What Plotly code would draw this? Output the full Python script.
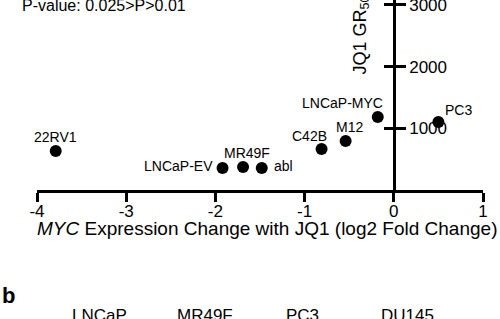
import plotly.graph_objects as go

# ---- data ----
cell_lines = ["22RV1", "LNCaP-EV", "MR49F", "abl", "C42B", "M12", "LNCaP-MYC", "PC3"]
myc_log2fc = [-3.79, -1.92, -1.69, -1.48, -0.81, -0.54, -0.18, 0.50]
jq1_gr50 = [632, 357, 373, 357, 665, 795, 1184, 1103]
x_ticks = [-4, -3, -2, -1, 0, 1]
y_ticks = [1000, 2000, 3000]
panel_b_headers = ["LNCaP", "MR49F", "PC3", "DU145"]

# ---- label placement (pixel offsets: anchor, xshift, yshift) ----
label_style = {
    "22RV1": ("center", 0, 14),
    "LNCaP-EV": ("right", -8, 2),
    "MR49F": ("center", 4, 14),
    "abl": ("left", 10, 2),
    "C42B": ("center", -12, 13),
    "M12": ("center", 4, 14),
    "LNCaP-MYC": ("right", 7, 14),
    "PC3": ("left", 5, 12),
}

FONT = "Liberation Sans, Arial, sans-serif"

L, R, T, B = 37, 17, 0, 129
W, H = 500, 319
pw, ph = W - L - R, H - T - B


def px_x(px):
    return (px - L) / pw


def px_y(py):
    return (H - B - py) / ph


fig = go.Figure()
fig.add_trace(go.Scatter(
    x=myc_log2fc, y=jq1_gr50, mode="markers",
    marker=dict(size=12, color="black"),
    cliponaxis=False, showlegend=False, hoverinfo="skip",
))
fig.add_trace(go.Scatter(x=[0], y=[0], yaxis="y2", mode="markers",
                         marker=dict(size=1, opacity=0), showlegend=False,
                         hoverinfo="skip"))

annotations = []
for name, xv, yv in zip(cell_lines, myc_log2fc, jq1_gr50):
    anchor, dx, dy = label_style[name]
    annotations.append(dict(
        x=xv, y=yv, xref="x", yref="y", text=name, showarrow=False,
        xanchor=anchor, yanchor="middle", xshift=dx, yshift=dy,
        font=dict(family=FONT, size=14, color="black"),
    ))

annotations.append(dict(
    x=-4, y=px_y(6), xref="x", yref="paper", text="P-value: 0.025>P>0.01",
    showarrow=False, xanchor="left", yanchor="middle", xshift=-17,
    font=dict(family=FONT, size=16, color="black"),
))
annotations.append(dict(
    x=px_x(266.5), y=px_y(228), xref="paper", yref="paper",
    text="<i>MYC</i> Expression Change with JQ1 (log2 Fold Change)",
    showarrow=False, xanchor="center", yanchor="middle",
    font=dict(family=FONT, size=19, color="black"),
))
annotations.append(dict(
    x=px_x(361), y=px_y(77), xref="paper", yref="paper",
    text="JQ1 GR<sub>50</sub>", textangle=-90,
    showarrow=False, xanchor="center", yanchor="bottom",
    font=dict(family=FONT, size=18, color="black"),
))
annotations.append(dict(
    x=px_x(0), y=px_y(295), xref="paper", yref="paper", text="<b>b</b>",
    showarrow=False, xanchor="left", yanchor="middle",
    font=dict(family=FONT, size=22, color="black"),
))
for name, cx in zip(panel_b_headers, [99, 205, 302, 407]):
    annotations.append(dict(
        x=px_x(cx), y=px_y(316), xref="paper", yref="paper", text=name,
        showarrow=False, xanchor="center", yanchor="middle",
        font=dict(family=FONT, size=17, color="black"),
    ))

yrange = [0, 190 / 61.67 * 1000]
fig.update_layout(
    width=W, height=H,
    margin=dict(l=L, r=R, t=T, b=B, pad=0),
    paper_bgcolor="white", plot_bgcolor="white",
    font=dict(family=FONT, color="black"),
    xaxis=dict(
        range=[-4, 1], tickvals=x_ticks, ticktext=[str(v) for v in x_ticks],
        showline=True, linecolor="black", linewidth=3,
        ticks="outside", ticklen=9, tickwidth=3, tickcolor="black",
        showgrid=False, zeroline=False, automargin=False,
        ticklabelstandoff=-5, ticklabeloverflow="allow",
        tickfont=dict(family=FONT, size=17, color="black"),
        fixedrange=True,
    ),
    yaxis=dict(
        range=yrange, tickvals=y_ticks,
        anchor="free", position=0.8, side="right",
        showline=True, linecolor="black", linewidth=3,
        ticks="outside", ticklen=10, tickwidth=3, tickcolor="black",
        showgrid=False, zeroline=False, automargin=False,
        ticklabeloverflow="allow",
        tickfont=dict(family=FONT, size=17, color="black"),
        fixedrange=True,
    ),
    yaxis2=dict(
        range=yrange, tickvals=y_ticks, overlaying="y",
        anchor="free", position=0.8, side="left",
        showline=False, ticks="outside", ticklen=10, tickwidth=3, tickcolor="black",
        showticklabels=False, showgrid=False, zeroline=False, fixedrange=True,
        automargin=False,
    ),
    annotations=annotations,
)

fig.write_html(
    "out.html",
    config={"displayModeBar": False, "staticPlot": True},
    post_script="document.body.style.margin='0';document.body.style.overflow='hidden';",
)
